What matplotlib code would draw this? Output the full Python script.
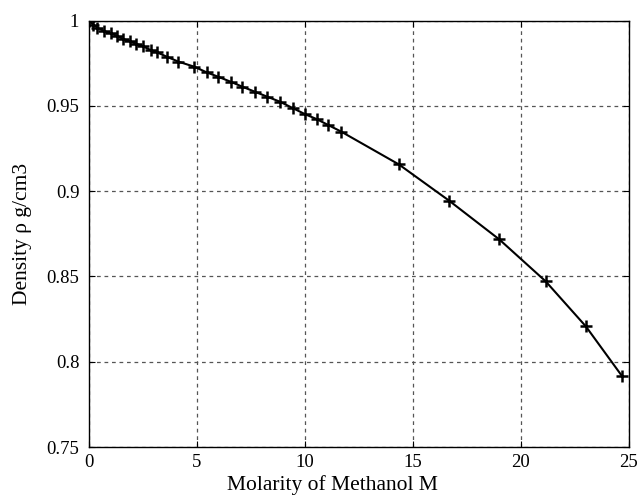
import numpy as np
import matplotlib.pyplot as plt

# molarity of methanol (M) and solution density (g/cm3)
molarity = [0.0, 0.2, 0.38, 0.69, 1.0, 1.28, 1.56, 1.9, 2.18, 2.49, 2.86, 3.16,
            3.6, 4.14, 4.88, 5.45, 5.99, 6.56, 7.10, 7.69, 8.26, 8.84, 9.46,
            10.0, 10.54, 11.08, 11.67, 14.35, 16.68, 19.0, 21.14, 23.0, 24.66]
density = [1.0, 0.9975, 0.996, 0.994, 0.9926, 0.9912, 0.9894, 0.9879, 0.9865,
           0.985, 0.9828, 0.9814, 0.9789, 0.976, 0.973, 0.9697, 0.9671, 0.9642,
           0.9613, 0.9583, 0.9554, 0.9525, 0.9486, 0.9452, 0.9423, 0.9388,
           0.935, 0.9157, 0.8944, 0.8717, 0.8472, 0.8208, 0.7919]

plt.rcParams['font.family'] = ['Liberation Serif', 'DejaVu Serif']

fig = plt.figure(figsize=(6.37, 4.98), dpi=100)
ax = fig.add_axes([0.1397, 0.1024, 0.8477, 0.8560])

ax.plot(molarity, density, color='black', lw=1.5, marker='+', ms=8, mew=1.8)

ax.set_xlim(0, 25)
ax.set_ylim(0.75, 1.0)
ax.set_xticks([0, 5, 10, 15, 20, 25])
ax.set_yticks([0.75, 0.8, 0.85, 0.9, 0.95, 1.0])
ax.set_yticklabels(['0.75', '0.8', '0.85', '0.9', '0.95', '1'])
ax.grid(True, color='#555555', ls=(0, (3, 3)), lw=0.9)
ax.tick_params(direction='in', length=4, labelsize=13.5, top=True, right=True)
ax.tick_params(axis='y', pad=7)
ax.tick_params(axis='x', pad=5)
for s in ax.spines.values():
    s.set_linewidth(1.0)

ax.set_xlabel('Molarity of Methanol M', fontsize=15.5)
ax.xaxis.set_label_coords(0.45, -0.066)
ax.set_ylabel('Density ρ g/cm3', fontsize=15.5)
ax.yaxis.set_label_coords(-0.105, 0.5)

fig.savefig('out.png', dpi=100)
